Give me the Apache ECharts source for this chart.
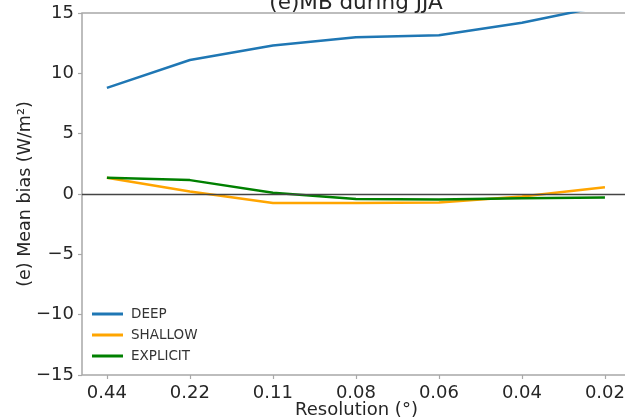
<!DOCTYPE html>
<html>
<head>
<meta charset="utf-8">
<script src="https://cdn.jsdelivr.net/npm/echarts@6/dist/echarts.min.js"></script>
<style>
  html, body { margin: 0; padding: 0; background: #fff; }
  #chart { width: 625px; height: 420px; }
</style>
</head>
<body>
<div id="chart"></div>
<script>
// resolution labels along x (one per run)
const resolutions = ['0.44', '0.22', '0.11', '0.08', '0.06', '0.04', '0.02']
const yTicks = [-15, -10, -5, 0, 5, 10, 15]

// mean bias, W/m2
const deep = [8.8, 11.1, 12.3, 13.0, 13.15, 14.2, 15.6]
const shallow = [1.35, 0.2, -0.75, -0.75, -0.7, -0.2, 0.55]
const explicit = [1.35, 1.15, 0.1, -0.42, -0.45, -0.35, -0.3]

const colors = { DEEP: '#1f77b4', SHALLOW: '#ffa500', EXPLICIT: '#008000' }

const chart = echarts.init(document.getElementById('chart'))

const toPairs = arr => arr.map((v, i) => [i, v])
const minus = v => (v < 0 ? '\u2212' + Math.abs(v) : String(v))

const makeSeries = (name, data) => ({
  name,
  type: 'line',
  data: toPairs(data),
  symbol: 'none',
  clip: true,
  lineStyle: { width: 2.5, color: colors[name] },
  itemStyle: { color: colors[name] },
  z: name === 'EXPLICIT' ? 4 : 3
})

const series = [
  makeSeries('DEEP', deep),
  makeSeries('SHALLOW', shallow),
  makeSeries('EXPLICIT', explicit)
]

// zero reference line
series[0].markLine = {
  silent: true,
  symbol: 'none',
  label: { show: false },
  lineStyle: { color: '#444', width: 1.3, type: 'solid' },
  data: [{ yAxis: 0 }]
}

const option = {
  animation: false,
  title: {
    text: '(e)MB during JJA',
    left: 351,
    textAlign: 'center',
    top: -13,
    textStyle: { fontFamily: 'DejaVu Sans', fontSize: 21.5, fontWeight: 'normal', color: '#262626' }
  },
  grid: {
    left: 82,
    right: -6,
    top: 13,
    bottom: 45,
    outerBoundsMode: 'none',
    containLabel: false,
    show: true,
    borderColor: '#a8a8a8',
    borderWidth: 1.5
  },
  legend: {
    orient: 'vertical',
    left: 92,
    top: 307,
    padding: 0,
    icon: 'rect',
    itemWidth: 31,
    itemHeight: 3,
    itemGap: 7,
    data: ['DEEP', 'SHALLOW', 'EXPLICIT'],
    textStyle: { fontFamily: 'DejaVu Sans', fontSize: 13.5, color: '#333', lineHeight: 14, padding: [0, 0, 0, 3] }
  },
  xAxis: {
    type: 'value',
    min: -0.3,
    max: 6.314,
    name: 'Resolution (\u00b0)',
    nameLocation: 'middle',
    nameGap: 26,
    nameMoveOverlap: false,
    nameTextStyle: { fontFamily: 'DejaVu Sans', fontSize: 18, color: '#262626' },
    axisLine: { show: false, onZero: false },
    splitLine: { show: false },
    axisTick: {
      show: true,
      length: 4,
      customValues: resolutions.map((_, i) => i),
      lineStyle: { color: '#a8a8a8', width: 1.2 }
    },
    axisLabel: {
      customValues: resolutions.map((_, i) => i),
      formatter: v => resolutions[Math.round(v)],
      fontFamily: 'DejaVu Sans',
      fontSize: 18,
      color: '#262626',
      margin: 9
    }
  },
  yAxis: {
    type: 'value',
    min: -15,
    max: 15,
    interval: 5,
    name: '(e) Mean bias (W/m\u00b2)',
    nameLocation: 'middle',
    nameGap: 48,
    nameMoveOverlap: false,
    nameTextStyle: { fontFamily: 'DejaVu Sans', fontSize: 17.5, color: '#262626' },
    axisLine: { show: false, onZero: false },
    splitLine: { show: false },
    axisTick: { show: true, length: 4, lineStyle: { color: '#a8a8a8', width: 1.2 } },
    axisLabel: {
      customValues: yTicks,
      formatter: minus,
      fontFamily: 'DejaVu Sans',
      fontSize: 18,
      color: '#262626',
      margin: 8
    }
  },
  series
}

chart.setOption(option)
</script>
</body>
</html>
